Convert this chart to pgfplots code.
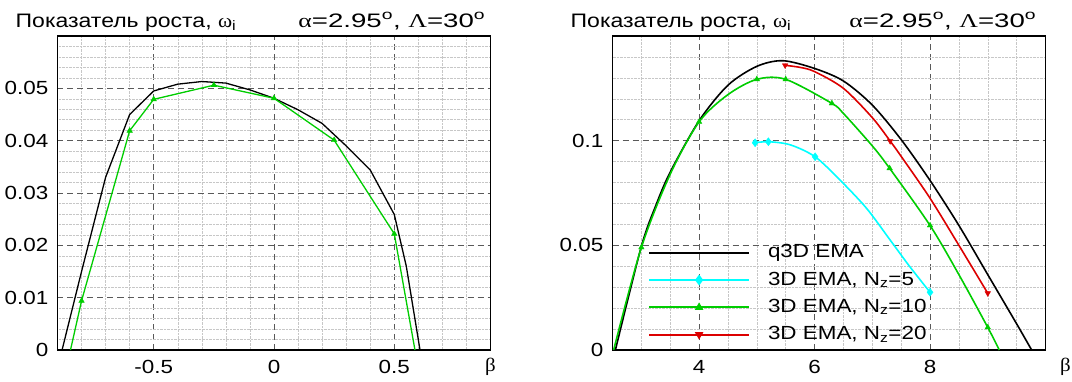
\documentclass[border=0pt]{standalone}
\usepackage{fontspec}
\setmainfont[FakeStretch=1.18]{Liberation Sans}
\newfontfamily\greek[FakeStretch=1.1]{Liberation Serif}
\usepackage{pgfplots}
\pgfplotsset{compat=1.18}
\definecolor{cgreen}{RGB}{0,205,0}
\definecolor{ccyan}{RGB}{0,255,255}
\definecolor{cred}{RGB}{220,0,0}

\newcommand{\tickfont}{\fontsize{19}{22}\selectfont}
\newcommand{\titlefont}{\fontsize{19.5}{22}\selectfont}

\pgfplotsset{
  myaxis/.style={
    scale only axis, width=433pt, height=314pt, anchor=south west,
    font=\tickfont,
    scaled x ticks=false, scaled y ticks=false,
    axis line style={line width=1.6pt},
    major tick length=0pt, minor tick length=0pt,
    grid=both,
    major grid style={dash pattern=on 6pt off 4pt, line width=0.9pt, color=black!65},
    minor grid style={densely dotted, line width=0.5pt, color=black!22},
    xticklabel style={inner sep=0pt, anchor=north, yshift=-10pt},
    yticklabel style={inner sep=0pt, anchor=east, xshift=-9pt},
    clip=true,
  }
}

\begin{document}
\begin{tikzpicture}
\useasboundingbox (0,0) rectangle (1072pt,381pt);
% ---------------- left panel ----------------
\begin{axis}[myaxis, name=L, at={(57.5pt,31pt)},
  xmin=-0.9, xmax=0.9, ymin=0, ymax=0.06,
  xtick={-0.5,0,0.5}, xticklabels={-0.5,0,0.5},
  ytick={0,0.01,0.02,0.03,0.04,0.05}, yticklabels={0,0.01,0.02,0.03,0.04,0.05},
  minor xtick={-0.8,-0.7,-0.6,-0.4,-0.3,-0.2,-0.1,0.1,0.2,0.3,0.4,0.6,0.7,0.8},
  minor ytick={0.002,0.004,0.006,0.008,0.012,0.014,0.016,0.018,0.022,0.024,0.026,0.028,0.032,0.034,0.036,0.038,0.042,0.044,0.046,0.048,0.052,0.054,0.056,0.058},
]
\addplot[black, line width=1.3pt] table {
x y
-0.881 0
-0.8 0.0150
-0.7 0.0330
-0.6 0.0450
-0.5 0.0495
-0.4 0.0508
-0.3 0.0513
-0.2 0.0510
-0.1 0.0497
0 0.0481
0.1 0.0459
0.2 0.0433
0.3 0.0390
0.4 0.0344
0.5 0.0259
0.55 0.0160
0.607 0
};
\addplot[cgreen, line width=1.3pt] table {
x y
-0.846 0
-0.8 0.0094
-0.6 0.0419
-0.5 0.0479
-0.25 0.0506
0 0.0481
0.25 0.0401
0.5 0.0222
0.586 0
};
\addplot[cgreen, only marks, mark=triangle*, mark size=3.2pt] table {
x y
-0.8 0.0094
-0.6 0.0419
-0.5 0.0479
-0.25 0.0506
0 0.0481
0.25 0.0401
0.5 0.0222
};
\end{axis}
\node[anchor=base west, inner sep=0pt, font=\titlefont] at ([xshift=-42pt,yshift=8.5pt]L.north west) {Показатель роста, {\greek ω}\textsubscript{i}};
\node[anchor=base east, inner sep=0pt, font=\titlefont] at ([xshift=-5pt,yshift=8.5pt]L.north east) {\scalebox{1.2}[1]{{\greek α}=2.95\textsuperscript{o}, {\greek Λ}=30\textsuperscript{o}}};
\node[anchor=north, inner sep=0pt, font=\tickfont\greek] at ([xshift=0pt,yshift=-8pt]L.south east) {β};

% ---------------- right panel ----------------
\begin{axis}[myaxis, name=R, at={(612.5pt,31pt)},
  xmin=2.5, xmax=10, ymin=0, ymax=0.15,
  xtick={4,6,8}, xticklabels={4,6,8},
  ytick={0,0.05,0.1}, yticklabels={0,0.05,0.1},
  minor xtick={3,3.5,4.5,5,5.5,6.5,7,7.5,8.5,9,9.5},
  minor ytick={0.01,0.02,0.03,0.04,0.06,0.07,0.08,0.09,0.11,0.12,0.13,0.14},
  legend style={at={(0.082,0.339)}, anchor=north west, draw=none, fill=none,
    inner sep=0pt, row sep=9.3pt,
    nodes={inner sep=0pt, text height=14pt, text depth=4pt},
    /tikz/every odd column/.append style={column sep=18pt}},
  legend cell align=left,
  legend image code/.code={\draw[mark repeat=2,mark phase=2,#1] plot coordinates {(0pt,0pt) (50pt,0pt) (100pt,0pt)};},
]
\addlegendimage{black, line width=1.8pt}
\addlegendentry{q3D EMA}
\addlegendimage{ccyan, line width=1.8pt, mark=diamond*, mark size=4pt}
\addlegendentry{3D EMA, N\textsubscript{z}=5}
\addlegendimage{cgreen, line width=1.8pt, mark=triangle*, mark size=3.2pt}
\addlegendentry{3D EMA, N\textsubscript{z}=10}
\addlegendimage{cred, line width=1.8pt, mark=triangle*, mark size=3.2pt, mark options={rotate=180}}
\addlegendentry{3D EMA, N\textsubscript{z}=20}

\addplot[black, line width=1.6pt, smooth, forget plot] table {
x y
2.55 0
3.0 0.0495
3.25 0.069
3.5 0.085
4.0 0.1095
4.5 0.1265
5.0 0.1355
5.45 0.1382
6.0 0.1345
6.5 0.1285
7.0 0.117
7.5 0.1005
8.0 0.081
8.5 0.0595
9.0 0.036
9.5 0.0125
9.76 0
};
\addplot[ccyan, line width=1.6pt, smooth, forget plot] table {
x y
4.97 0.099
5.2 0.0995
5.58 0.098
6.01 0.0923
6.44 0.0812
6.9 0.0677
7.31 0.0525
7.65 0.0398
8.0 0.0276
};
\addplot[ccyan, only marks, mark=diamond*, mark size=4pt, forget plot] table {
x y
4.97 0.099
5.2 0.0995
6.01 0.0923
8.0 0.0276
};
\addplot[cgreen, line width=1.6pt, smooth, forget plot] table {
x y
2.52 0
3.0 0.049
3.5 0.084
4.0 0.109
4.5 0.122
5.0 0.1293
5.5 0.1293
6.3 0.1178
6.5 0.113
7.0 0.0975
7.3 0.0868
8.0 0.0595
8.5 0.036
9.0 0.0108
9.2 0
};
\addplot[cgreen, only marks, mark=triangle*, mark size=3.2pt, forget plot] table {
x y
3.0 0.049
4.0 0.109
5.0 0.1293
5.5 0.1293
6.3 0.1178
7.3 0.0868
8.0 0.0595
9.0 0.0108
};
\addplot[cred, line width=1.6pt, smooth, forget plot] table {
x y
5.49 0.136
5.75 0.135
6.0 0.133
6.5 0.125
7.0 0.111
7.31 0.0998
7.5 0.0925
8.0 0.0725
8.5 0.050
9.0 0.0271
};
\addplot[cred, only marks, mark=triangle*, mark size=3.2pt, mark options={rotate=180}, forget plot] table {
x y
5.49 0.136
7.31 0.0998
9.0 0.0271
};
\end{axis}
\node[anchor=base west, inner sep=0pt, font=\titlefont] at ([xshift=-42pt,yshift=8.5pt]R.north west) {Показатель роста, {\greek ω}\textsubscript{i}};
\node[anchor=base east, inner sep=0pt, font=\titlefont] at ([xshift=-9pt,yshift=8.5pt]R.north east) {\scalebox{1.2}[1]{{\greek α}=2.95\textsuperscript{o}, {\greek Λ}=30\textsuperscript{o}}};
\node[anchor=north, inner sep=0pt, font=\tickfont\greek] at ([xshift=20pt,yshift=-8pt]R.south east) {β};
\end{tikzpicture}
\end{document}
